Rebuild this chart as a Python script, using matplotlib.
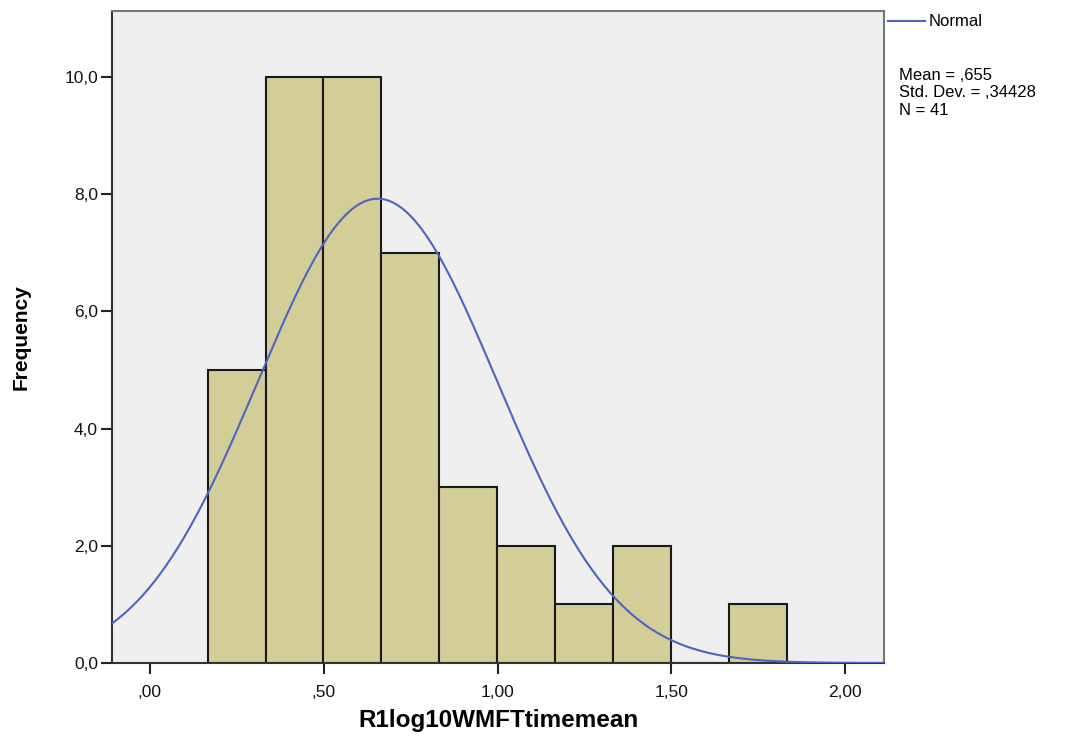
import numpy as np
import matplotlib
matplotlib.use('Agg')
import matplotlib.pyplot as plt
from matplotlib.ticker import FuncFormatter

plt.rcParams['font.family'] = ['Liberation Sans', 'DejaVu Sans']

# histogram
bin_start = 0.166
bin_width = 0.1667
counts = [5, 10, 10, 7, 3, 2, 1, 2, 0, 1]
mean = 0.655
std = 0.34428
n_obs = 41

edges = bin_start + bin_width * np.arange(len(counts) + 1)

fig = plt.figure(figsize=(10.76, 7.38), dpi=100)
ax = fig.add_axes([0.1041, 0.1016, 0.7175, 0.8834])
ax.set_facecolor('#efefef')

ax.bar(edges[:-1], counts, width=bin_width, align='edge',
       color='#d3ce97', edgecolor='#1a1a1a', linewidth=1.5, zorder=2)

xs = np.linspace(-0.12, 2.12, 400)
ys = n_obs * bin_width / (std * np.sqrt(2 * np.pi)) * np.exp(-0.5 * ((xs - mean) / std) ** 2)
ax.plot(xs, ys, color='#4f63c0', linewidth=1.5, zorder=3)

ax.set_xlim(-0.109, 2.112)
ax.set_ylim(0, 11.12)

def comma_fmt(v, pos, nd):
    s = '{:.{}f}'.format(v, nd).replace('.', ',')
    if nd == 2 and s.startswith('0,'):
        s = s[1:]
    return s

ax.set_xticks([0, 0.5, 1.0, 1.5, 2.0])
ax.set_yticks([0, 2, 4, 6, 8, 10])
ax.xaxis.set_major_formatter(FuncFormatter(lambda v, p: comma_fmt(v, p, 2)))
ax.yaxis.set_major_formatter(FuncFormatter(lambda v, p: comma_fmt(v, p, 1)))
ax.tick_params(axis='both', direction='out', length=8, width=1.5,
               labelsize=12.5, color='#222222', labelcolor='#111111')
ax.tick_params(axis='x', pad=8)
ax.tick_params(axis='y', pad=2)

for side in ['left', 'bottom']:
    ax.spines[side].set_linewidth(1.5)
    ax.spines[side].set_color('#333333')
for side in ['top', 'right']:
    ax.spines[side].set_linewidth(1.5)
    ax.spines[side].set_color('#777777')

ax.set_xlabel('R1log10WMFTtimemean', fontsize=17.5, fontweight='bold', labelpad=6)
ax.set_ylabel('Frequency', fontsize=15, fontweight='bold', labelpad=24)

# legend and stats box on the right
fig.lines.append(plt.Line2D([888 / 1076, 925 / 1076], [1 - 21 / 738, 1 - 21 / 738],
                            transform=fig.transFigure, color='#4f63c0', linewidth=1.5))
fig.text(929 / 1076, 1 - 22 / 738, 'Normal', fontsize=12, va='center', ha='left')
fig.text(899 / 1076, 1 - 68 / 738,
         'Mean = ,655\nStd. Dev. = ,34428\nN = 41',
         fontsize=12, va='top', ha='left', linespacing=1.2)

plt.savefig('out.png', dpi=100)
